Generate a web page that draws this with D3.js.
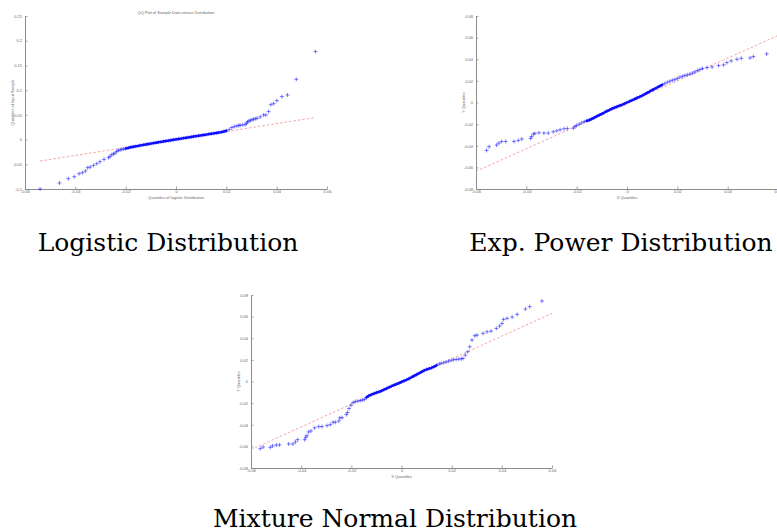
<!DOCTYPE html>
<html>
<head>
<meta charset="utf-8">
<script src="https://cdn.jsdelivr.net/npm/d3@7/dist/d3.min.js"></script>
<style>
  html, body { margin: 0; padding: 0; background: #fff; }
  svg { display: block; }
</style>
</head>
<body>
<svg id="chart" width="777" height="532"></svg>
<script>
// ---------------- DATA ----------------
const captions = ["Logistic Distribution", "Exp. Power Distribution", "Mixture Normal Distribution"];
const plotTitles = ["QQ Plot of Sample Data versus Distribution", "", ""];
const xLabels = ["Quantiles of logistic Distribution", "X Quantiles", "X Quantiles"];
const yLabels = ["Quantiles of Input Sample", "Y Quantiles", "Y Quantiles"];

const xTicks = [-0.06, -0.04, -0.02, 0, 0.02, 0.04, 0.06];
const xTickLabels = ["-0.06", "-0.04", "-0.02", "0", "0.02", "0.04", "0.06"];
const logisticYTicks = [-0.1, -0.05, 0, 0.05, 0.1, 0.15, 0.2, 0.25];
const logisticYTickLabels = ["-0.1", "-0.05", "0", "0.05", "0.1", "0.15", "0.2", "0.25"];
const smallYTicks = [-0.08, -0.06, -0.04, -0.02, 0, 0.02, 0.04, 0.06, 0.08];
const smallYTickLabels = ["-0.08", "-0.06", "-0.04", "-0.02", "0", "0.02", "0.04", "0.06", "0.08"];

// Logistic: sorted sample quantiles vs logistic quantiles
const logisticSample = [
  [-0.0540,-0.1000],[-0.0463,-0.0879],[-0.0428,-0.0791],[-0.0404,-0.0751],[-0.0385,-0.0690],
  [-0.0372,-0.0670],[-0.0360,-0.0636],[-0.0351,-0.0569],[-0.0341,-0.0556],[-0.0328,-0.0522],
  [-0.0315,-0.0488],[-0.0302,-0.0448],[-0.0286,-0.0401],[-0.0268,-0.0367],[-0.0262,-0.0340],
  [-0.0255,-0.0307],[-0.0248,-0.0290],[-0.0242,-0.0273],[-0.0235,-0.0240],[-0.0229,-0.0219],
  [-0.0222,-0.0208],[-0.0215,-0.0199],[-0.0208,-0.0192],
  [-0.020,-0.0182],[-0.019,-0.0168],[-0.018,-0.0155],[-0.017,-0.0146],[-0.016,-0.0137],
  [-0.015,-0.0127],[-0.014,-0.0117],[-0.013,-0.0108],[-0.012,-0.0099],[-0.011,-0.0090],
  [-0.010,-0.0082],[-0.009,-0.0073],[-0.008,-0.0064],[-0.007,-0.0055],[-0.006,-0.0047],
  [-0.005,-0.0038],[-0.004,-0.0030],[-0.003,-0.0021],[-0.002,-0.0013],[-0.001,-0.0004],
  [0.000,0.0004],[0.001,0.0012],[0.002,0.0020],[0.003,0.0028],[0.004,0.0036],
  [0.005,0.0045],[0.006,0.0053],[0.007,0.0061],[0.008,0.0069],[0.009,0.0077],
  [0.010,0.0085],[0.011,0.0093],[0.012,0.0101],[0.013,0.0109],[0.014,0.0117],
  [0.015,0.0125],[0.016,0.0134],[0.017,0.0143],[0.018,0.0152],[0.019,0.0163],
  [0.020,0.0178],[0.0212,0.0205],[0.0222,0.0243],[0.0232,0.0262],[0.0242,0.0276],
  [0.0250,0.0285],[0.0255,0.0290],[0.0265,0.0297],[0.0275,0.0303],[0.0280,0.0330],
  [0.0284,0.0357],[0.0290,0.0375],[0.0295,0.0390],[0.0302,0.0400],[0.0308,0.0411],
  [0.0315,0.0421],[0.0322,0.0431],[0.0335,0.0458],[0.0348,0.0498],[0.0357,0.0498],
  [0.0368,0.0566],[0.0377,0.0707],[0.0388,0.0727],[0.0401,0.0788],[0.0421,0.0869],
  [0.0443,0.0902],[0.0478,0.1218],[0.0554,0.1780]
];
const logisticRef = [[-0.0540,-0.0434],[0.0554,0.0447]];
const logisticDense = [-0.020, 0.020];   // x-range where points are too many to resolve

// Exponential power
const expPowerSample = [
  [-0.0558,-0.0443],[-0.0548,-0.0409],[-0.0518,-0.0394],[-0.0509,-0.0375],[-0.0498,-0.0360],
  [-0.0482,-0.0360],[-0.0449,-0.0360],[-0.0432,-0.0351],[-0.0418,-0.0338],[-0.0383,-0.0332],
  [-0.0379,-0.0314],[-0.0372,-0.0292],[-0.0366,-0.0286],[-0.0350,-0.0280],[-0.0330,-0.0283],
  [-0.0313,-0.0283],[-0.0293,-0.0271],[-0.0279,-0.0262],[-0.0266,-0.0252],[-0.0250,-0.0243],
  [-0.0237,-0.0240],[-0.0213,-0.0237],[-0.0207,-0.0222],
  [-0.020,-0.0212],[-0.019,-0.0200],[-0.018,-0.0188],[-0.017,-0.0177],[-0.016,-0.0170],
  [-0.015,-0.0163],[-0.014,-0.0152],[-0.013,-0.0140],[-0.012,-0.0128],[-0.011,-0.0116],
  [-0.010,-0.0105],[-0.009,-0.0093],[-0.008,-0.0080],[-0.007,-0.0069],[-0.006,-0.0057],
  [-0.005,-0.0048],[-0.004,-0.0039],[-0.003,-0.0030],[-0.002,-0.0021],[-0.001,-0.0011],
  [0.000,0.0000],[0.001,0.0010],[0.002,0.0021],[0.003,0.0031],[0.004,0.0043],
  [0.005,0.0053],[0.006,0.0064],[0.007,0.0076],[0.008,0.0089],[0.009,0.0102],
  [0.010,0.0115],[0.011,0.0127],[0.012,0.0139],[0.013,0.0151],[0.014,0.0164],
  [0.015,0.0176],[0.016,0.0187],[0.017,0.0197],[0.018,0.0205],[0.019,0.0212],
  [0.020,0.0222],[0.021,0.0234],[0.022,0.0242],[0.023,0.0250],[0.024,0.0256],
  [0.025,0.0263],[0.026,0.0272],[0.027,0.0283],[0.028,0.0295],[0.029,0.0305],
  [0.030,0.0315],[0.0318,0.0323],[0.0338,0.0329],[0.0364,0.0342],[0.0384,0.0348],
  [0.0397,0.0369],[0.0414,0.0385],[0.0437,0.0400],[0.0454,0.0409],[0.0489,0.0412],
  [0.0502,0.0425],[0.0555,0.0449]
];
const expPowerRef = [[-0.0600,-0.0637],[0.0600,0.0620]];
const expPowerDense = [-0.016, 0.014];

// Mixture normal
const mixtureSample = [
  [-0.0563,-0.0621],[-0.0552,-0.0606],[-0.0523,-0.0609],[-0.0514,-0.0596],[-0.0499,-0.0587],
  [-0.0486,-0.0587],[-0.0450,-0.0578],[-0.0433,-0.0578],[-0.0423,-0.0559],[-0.0414,-0.0538],
  [-0.0386,-0.0538],[-0.0382,-0.0516],[-0.0377,-0.0501],[-0.0370,-0.0467],[-0.0361,-0.0457],
  [-0.0346,-0.0429],[-0.0330,-0.0417],[-0.0317,-0.0417],[-0.0297,-0.0408],[-0.0284,-0.0399],
  [-0.0273,-0.0377],[-0.0264,-0.0377],[-0.0250,-0.0365],[-0.0246,-0.0337],[-0.0237,-0.0334],
  [-0.0220,-0.0306],[-0.0215,-0.0287],[-0.0209,-0.0250],[-0.0201,-0.0219],[-0.0193,-0.0195],
  [-0.0184,-0.0185],[-0.0174,-0.0181],[-0.0164,-0.0176],[-0.0156,-0.0172],[-0.0148,-0.0167],
  [-0.014,-0.0148],[-0.013,-0.0131],[-0.012,-0.0121],[-0.011,-0.0112],[-0.010,-0.0103],
  [-0.009,-0.0096],[-0.008,-0.0086],[-0.007,-0.0075],[-0.006,-0.0065],[-0.005,-0.0055],
  [-0.004,-0.0044],[-0.003,-0.0033],[-0.002,-0.0024],[-0.001,-0.0015],[0.000,-0.0004],
  [0.001,0.0006],[0.002,0.0016],[0.003,0.0027],[0.004,0.0039],[0.005,0.0052],
  [0.006,0.0064],[0.007,0.0076],[0.008,0.0089],[0.009,0.0102],[0.010,0.0111],
  [0.011,0.0119],[0.012,0.0127],[0.013,0.0137],[0.014,0.0150],[0.015,0.0162],
  [0.0158,0.0168],[0.0168,0.0173],[0.0178,0.0180],[0.0188,0.0188],[0.0198,0.0196],
  [0.0208,0.0201],[0.0218,0.0204],[0.0228,0.0207],[0.0238,0.0210],[0.0245,0.0213],
  [0.0254,0.0244],[0.0264,0.0275],[0.0272,0.0321],[0.0281,0.0383],[0.0292,0.0423],
  [0.0301,0.0429],[0.0325,0.0445],[0.0341,0.0460],[0.0357,0.0466],[0.0378,0.0491],
  [0.0391,0.0513],[0.0401,0.0537],[0.0407,0.0574],[0.0421,0.0584],[0.0441,0.0596],
  [0.0461,0.0621],[0.0494,0.0670],[0.0511,0.0692],[0.0560,0.0744]
];
const mixtureRef = [[-0.0600,-0.0630],[0.0600,0.0630]];
const mixtureDense = [-0.014, 0.014];

// ---------------- LAYOUT ----------------
const panels = [
  { sample: logisticSample, ref: logisticRef, dense: logisticDense, yDomain: [-0.1, 0.25],
    yTicks: logisticYTicks, yTickLabels: logisticYTickLabels,
    box: { l: 25, r: 327, t: 16, b: 189 }, caption: { x: 168, y: 251 } },
  { sample: expPowerSample, ref: expPowerRef, dense: expPowerDense, yDomain: [-0.08, 0.08],
    yTicks: smallYTicks, yTickLabels: smallYTickLabels,
    box: { l: 476, r: 778, t: 16, b: 189 }, caption: { x: 621, y: 251 } },
  { sample: mixtureSample, ref: mixtureRef, dense: mixtureDense, yDomain: [-0.08, 0.08],
    yTicks: smallYTicks, yTickLabels: smallYTickLabels,
    box: { l: 251, r: 552, t: 295, b: 468 }, caption: { x: 395, y: 527 } }
];

const svg = d3.select("#chart");
const axisColor = "#8c8c8c";
const labelColor = "#666";
const tickFont = "Liberation Sans, Arial, sans-serif";
const smallSize = 4;

panels.forEach((p, i) => {
  const b = p.box;
  const x = d3.scaleLinear().domain([-0.06, 0.06]).range([b.l, b.r]);
  const y = d3.scaleLinear().domain(p.yDomain).range([b.b, b.t]);
  const g = svg.append("g");

  // axes (MATLAB style: ticks pointing inward)
  const xAxis = d3.axisBottom(x).tickValues(xTicks)
    .tickFormat((d, k) => xTickLabels[k]).tickSizeInner(-2.5).tickSizeOuter(0).tickPadding(1.6);
  const yAxis = d3.axisLeft(y).tickValues(p.yTicks)
    .tickFormat((d, k) => p.yTickLabels[k]).tickSizeInner(-2.5).tickSizeOuter(0).tickPadding(3);

  const gx = g.append("g").attr("transform", `translate(0,${b.b})`).call(xAxis);
  const gy = g.append("g").attr("transform", `translate(${b.l},0)`).call(yAxis);
  [gx, gy].forEach(a => {
    a.select(".domain").attr("stroke", axisColor).attr("stroke-width", 1);
    a.selectAll(".tick line").attr("stroke", axisColor).attr("stroke-width", 0.8);
    a.selectAll(".tick text").attr("fill", labelColor).attr("font-size", smallSize).attr("font-family", tickFont);
  });

  // reference line
  g.append("path")
    .datum(p.ref)
    .attr("d", d3.line().x(d => x(d[0])).y(d => y(d[1])))
    .attr("fill", "none")
    .attr("stroke", "#f29a9a")
    .attr("stroke-width", 0.9)
    .attr("stroke-dasharray", "2.5,2");

  // unresolved dense run of sample points: drawn as a thick band through them
  const densePts = p.sample.filter(d => d[0] >= p.dense[0] - 1e-9 && d[0] <= p.dense[1] + 1e-9);
  g.append("path")
    .datum(densePts)
    .attr("d", d3.line().x(d => x(d[0])).y(d => y(d[1])))
    .attr("fill", "none")
    .attr("stroke", "#0000ff")
    .attr("stroke-width", 2.4)
    .attr("stroke-linecap", "round")
    .attr("stroke-linejoin", "round");

  // sample markers "+"
  g.append("g").selectAll("path")
    .data(p.sample)
    .join("path")
    .attr("transform", d => `translate(${x(d[0])},${y(d[1])})`)
    .attr("d", "M-2,0H2M0,-2V2")
    .attr("fill", "none")
    .attr("stroke", "#1a1aff")
    .attr("stroke-opacity", 0.85)
    .attr("stroke-width", 0.65);

  // axis labels
  g.append("text")
    .attr("x", (b.l + b.r) / 2).attr("y", b.b + 9.5)
    .attr("text-anchor", "middle")
    .attr("font-family", tickFont).attr("font-size", smallSize).attr("fill", labelColor)
    .text(xLabels[i]);
  g.append("text")
    .attr("transform", `translate(${b.l - 11},${(b.t + b.b) / 2}) rotate(-90)`)
    .attr("text-anchor", "middle")
    .attr("font-family", tickFont).attr("font-size", smallSize).attr("fill", labelColor)
    .text(yLabels[i]);
  if (plotTitles[i]) {
    g.append("text")
      .attr("x", (b.l + b.r) / 2).attr("y", b.t - 2.5)
      .attr("text-anchor", "middle")
      .attr("font-family", tickFont).attr("font-size", smallSize).attr("fill", labelColor)
      .text(plotTitles[i]);
  }

  // caption
  svg.append("text")
    .attr("x", p.caption.x).attr("y", p.caption.y)
    .attr("text-anchor", "middle")
    .attr("font-family", "DejaVu Serif, serif")
    .attr("font-size", 25)
    .attr("fill", "#000")
    .text(captions[i]);
});
</script>
</body>
</html>
